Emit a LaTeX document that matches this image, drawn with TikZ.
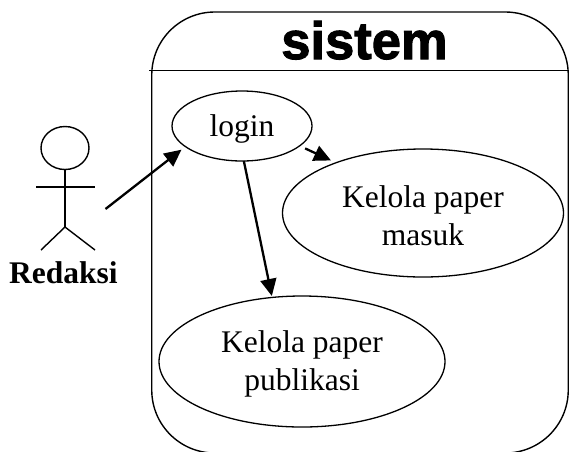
\documentclass[tikz,border=0pt]{standalone}
\usepackage{fontspec}
\setmainfont{Liberation Serif}
\newfontfamily\headfont[FakeBold=2]{Liberation Sans Bold}
\usetikzlibrary{shapes.geometric,arrows.meta}
\tikzset{
  usecase/.style={draw,ellipse,line width=1.3pt,inner sep=0pt,outer sep=0pt,align=center,font=\fontsize{31.5}{38}\selectfont},
  thinline/.style={line width=1.4pt},
  link/.style={line width=2.3pt,-{Triangle[length=17pt,width=16pt]}},
}
\newcommand{\lowerstrut}{\rule{0pt}{27pt}}
\begin{document}
\begin{tikzpicture}[x=1pt,y=-1pt]
\useasboundingbox (0,0) rectangle (569,451);
\clip (0,0) rectangle (569,451);
\node[draw,thinline,rounded corners=63pt,minimum width=416.5pt,minimum height=441pt,inner sep=0pt,outer sep=0pt] (container) at (360,232.5) {};
\coordinate (hl) at (149,70.5);
\coordinate (hr) at (569,70.5);
\draw[thinline] (hl) -- (hr);
\node[inner sep=0pt,anchor=base] (title) at (364.5,59) {\headfont\fontsize{52.5}{52.5}\selectfont sistem};
\node[usecase,minimum width=140pt,minimum height=70pt] (login) at (242,126) {\rule{0pt}{28.5pt}login};
\node[usecase,minimum width=281pt,minimum height=128pt] (masuk) at (423,213) {\lowerstrut Kelola paper\\masuk};
\node[usecase,minimum width=286pt,minimum height=131pt] (publikasi) at (302,361.5) {\lowerstrut Kelola paper\\publikasi};
\node[draw,ellipse,thinline,inner sep=0pt,outer sep=0pt,minimum width=48pt,minimum height=43pt] (head) at (65,148) {};
\coordinate (hip) at (65,227);
\coordinate (arml) at (36,187);
\coordinate (armr) at (95,187);
\coordinate (legl) at (41,250);
\coordinate (legr) at (95,250);
\draw[thinline] (head.south) -- (hip);
\draw[thinline] (arml) -- (armr);
\draw[thinline] (legl) -- (hip) -- (legr);
\node[inner sep=0pt,anchor=base,font=\fontsize{31.5}{31.5}\selectfont\bfseries] (actor) at (63.5,283) {Redaksi};
\coordinate (hand) at (105.5,209);
\draw[link,shorten >=5pt] (hand) -- (login.200);
\draw[link,shorten <=6pt,shorten >=5.5pt] (login.-19.5) -- (masuk.150.3);
\draw[link,shorten >=1.5pt] (login.-87) -- (publikasi.115.7);
\end{tikzpicture}
\end{document}
